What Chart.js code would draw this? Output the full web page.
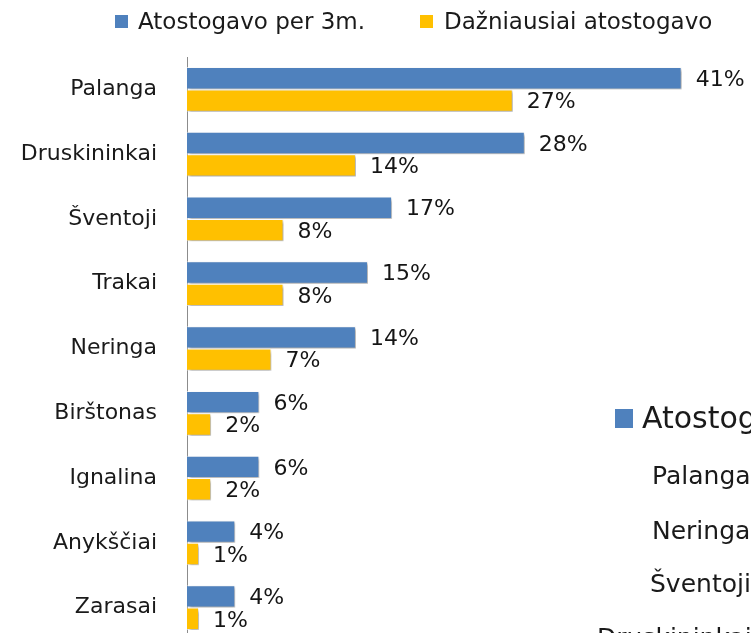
<!DOCTYPE html>
<html>
<head>
<meta charset="utf-8">
<script src="https://cdn.jsdelivr.net/npm/chart.js@4"></script>
<style>
  body { margin: 0; background: #fff; overflow: hidden; }
  #wrap { position: relative; width: 751px; height: 633px; overflow: hidden; font-family: "DejaVu Sans", sans-serif; color: #1a1a1a; }
  #box { position: absolute; left: 0; top: 0; width: 751px; height: 645px; }
  .sq { position: absolute; }
  .txt { position: absolute; white-space: nowrap; }
  .other { font-size: 25px; line-height: 25px; }
</style>
</head>
<body>
<div id="wrap">
  <div id="box"><canvas id="myChart"></canvas></div>
  <div class="sq" style="left:115px;top:15px;width:13px;height:13px;background:#4f81bd"></div>
  <div class="txt" id="leg1" style="left:138px;top:10px;font-size:23px;line-height:23px"></div>
  <div class="sq" style="left:420px;top:15px;width:13px;height:13px;background:#ffc000"></div>
  <div class="txt" id="leg2" style="left:444px;top:10px;font-size:23px;line-height:23px"></div>

  <!-- part of another chart's legend that shows at the lower right -->
  <div class="sq" style="left:615px;top:409px;width:18px;height:19px;background:#4f81bd"></div>
  <div class="txt" style="left:642px;top:403px;font-size:30px;line-height:30px">Atostogavo per 3m.</div>
  <div class="txt other" style="left:652px;top:463px">Palanga</div>
  <div class="txt other" style="left:652px;top:518px">Neringa</div>
  <div class="txt other" style="left:650px;top:571px">Šventoji</div>
  <div class="txt other" style="left:597px;top:625px">Druskininkai</div>
</div>
<script>
const categories = ['Palanga', 'Druskininkai', 'Šventoji', 'Trakai', 'Neringa', 'Birštonas', 'Ignalina', 'Anykščiai', 'Zarasai'];
const seriesNames = ['Atostogavo per 3m.', 'Dažniausiai atostogavo'];
const per3m = [41, 28, 17, 15, 14, 6, 6, 4, 4];
const dazniausiai = [27, 14, 8, 8, 7, 2, 2, 1, 1];
const colors = ['#4f81bd', '#ffc000'];

document.getElementById('leg1').textContent = seriesNames[0];
document.getElementById('leg2').textContent = seriesNames[1];

// drop shadow under the bars
const shadowPlugin = {
    id: 'barShadow',
    beforeDatasetDraw(chart) {
        const c = chart.ctx;
        c.save();
        c.shadowColor = 'rgba(0,0,0,0.35)';
        c.shadowOffsetX = 2;
        c.shadowOffsetY = 2;
        c.shadowBlur = 3;
    },
    afterDatasetDraw(chart) {
        chart.ctx.restore();
    }
};

// value labels after bar ends
const labelPlugin = {
    id: 'valueLabels',
    afterDatasetsDraw(chart) {
        const c = chart.ctx;
        c.save();
        c.font = '22px "DejaVu Sans"';
        c.fillStyle = '#151515';
        c.textBaseline = 'middle';
        c.textAlign = 'left';
        chart.data.datasets.forEach((ds, di) => {
            const meta = chart.getDatasetMeta(di);
            meta.data.forEach((bar, i) => {
                c.fillText(ds.data[i] + '%', bar.x + 14, bar.y + 2);
            });
        });
        c.restore();
    }
};

const ctx = document.getElementById('myChart').getContext('2d');
const myChart = new Chart(ctx, {
    type: 'bar',
    data: {
        labels: categories,
        datasets: [
            { label: seriesNames[0], data: per3m, backgroundColor: colors[0], borderColor: 'rgba(255,255,255,0.6)', borderWidth: 1 },
            { label: seriesNames[1], data: dazniausiai, backgroundColor: colors[1], borderColor: 'rgba(255,255,255,0.6)', borderWidth: 1 }
        ]
    },
    options: {
        indexAxis: 'y',
        responsive: true,
        maintainAspectRatio: false,
        animation: false,
        layout: { padding: { top: 57, right: 9, bottom: 5, left: 0 } },
        datasets: { bar: { categoryPercentage: 0.69, barPercentage: 1 } },
        plugins: { legend: { display: false }, tooltip: { enabled: false } },
        scales: {
            x: { display: false, min: 0, max: 46 },
            y: {
                grid: { display: false, drawTicks: false },
                border: { color: '#8c8c8c', width: 1 },
                ticks: { font: { family: 'DejaVu Sans', size: 22 }, color: '#1a1a1a', padding: 30 },
                afterFit(scale) {
                    scale.width = 187;
                    // labels should not shrink the plot vertically
                    scale.paddingTop = 0;
                    scale.paddingBottom = 0;
                }
            }
        }
    },
    plugins: [shadowPlugin, labelPlugin]
});
</script>
</body>
</html>
